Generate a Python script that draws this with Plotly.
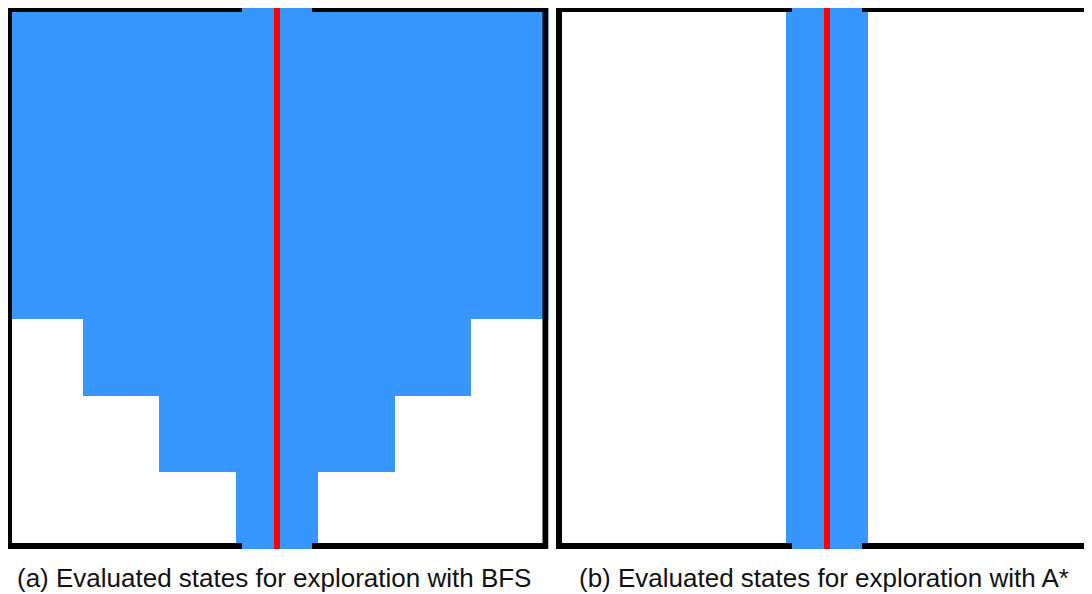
import plotly.graph_objects as go

# grid cell boundaries (pixel-like units inside each panel)
col_edges = [0, 77, 153, 230, 312, 389, 465, 542.5]
row_edges = [0, 78, 157, 235, 313, 390, 466, 543]

# 1 = evaluated state, 0 = not evaluated (top row first)
bfs_cells = [
    [1, 1, 1, 1, 1, 1, 1],
    [1, 1, 1, 1, 1, 1, 1],
    [1, 1, 1, 1, 1, 1, 1],
    [1, 1, 1, 1, 1, 1, 1],
    [0, 1, 1, 1, 1, 1, 0],
    [0, 0, 1, 1, 1, 0, 0],
    [0, 0, 0, 1, 0, 0, 0],
]
astar_cells = [
    [0, 0, 0, 1, 0, 0, 0],
    [0, 0, 0, 1, 0, 0, 0],
    [0, 0, 0, 1, 0, 0, 0],
    [0, 0, 0, 1, 0, 0, 0],
    [0, 0, 0, 1, 0, 0, 0],
    [0, 0, 0, 1, 0, 0, 0],
    [0, 0, 0, 1, 0, 0, 0],
]

# start/goal corridor that runs through the walls, and the solution path
corridor_x = [236, 306]
path_x = 271
grid_height = 543

captions = [
    "(a) Evaluated states for exploration with BFS",
    "(b) Evaluated states for exploration with A*",
]

BLUE = "#3797ff"
# the page body adds an 8px margin, so the figure is drawn 8px smaller
W, H = 1084, 586

fig = go.Figure()

for cells, ax in [(bfs_cells, "x"), (astar_cells, "x2")]:
    fig.add_trace(go.Heatmap(
        z=cells, x=col_edges, y=row_edges,
        colorscale=[[0, "white"], [1, BLUE]], zmin=0, zmax=1,
        showscale=False, hoverinfo="skip",
        xaxis=ax, yaxis="y" if ax == "x" else "y2",
    ))

shapes = []
for xr, yr in [("x", "y"), ("x2", "y2")]:
    # outer wall
    shapes.append(dict(type="rect", xref=xr, yref=yr, layer="above",
                       x0=col_edges[0] + 3, x1=col_edges[-1] - 3,
                       y0=row_edges[0] + 3, y1=row_edges[-1] - 3,
                       line=dict(color="black", width=6), fillcolor="rgba(0,0,0,0)"))
    # corridor over the wall
    shapes.append(dict(type="rect", xref=xr, yref=yr, layer="above",
                       x0=corridor_x[0], x1=corridor_x[1], y0=0, y1=grid_height,
                       line=dict(width=0), fillcolor=BLUE))
    # path
    shapes.append(dict(type="line", xref=xr, yref=yr, layer="above",
                       x0=path_x, x1=path_x, y0=0, y1=grid_height,
                       line=dict(color="red", width=6)))

annotations = []
for text, xr in zip(captions, ["x", "x2"]):
    annotations.append(dict(text=text, xref=xr, yref="paper", x=path_x - 3, y=1 - 569.5 / H,
                            showarrow=False, xanchor="center", yanchor="middle",
                            font=dict(family="Liberation Sans, Arial, sans-serif",
                                      size=26, color="#111111")))

ax_common = dict(visible=False, fixedrange=True, showgrid=False, zeroline=False)
fig.update_layout(
    width=W, height=H,
    margin=dict(l=0, r=0, t=0, b=0),
    paper_bgcolor="white", plot_bgcolor="white",
    showlegend=False,
    xaxis=dict(domain=[0, 540.5 / W], range=[2, 542.5], anchor="y", **ax_common),
    yaxis=dict(domain=[1 - 541 / H, 1], range=[543, 2], anchor="x", **ax_common),
    xaxis2=dict(domain=[548 / W, 1], range=[0, 536], anchor="y2", **ax_common),
    yaxis2=dict(domain=[1 - 541 / H, 1], range=[543, 2], anchor="x2", **ax_common),
    shapes=shapes,
    annotations=annotations,
)

fig.write_html("out.html")
